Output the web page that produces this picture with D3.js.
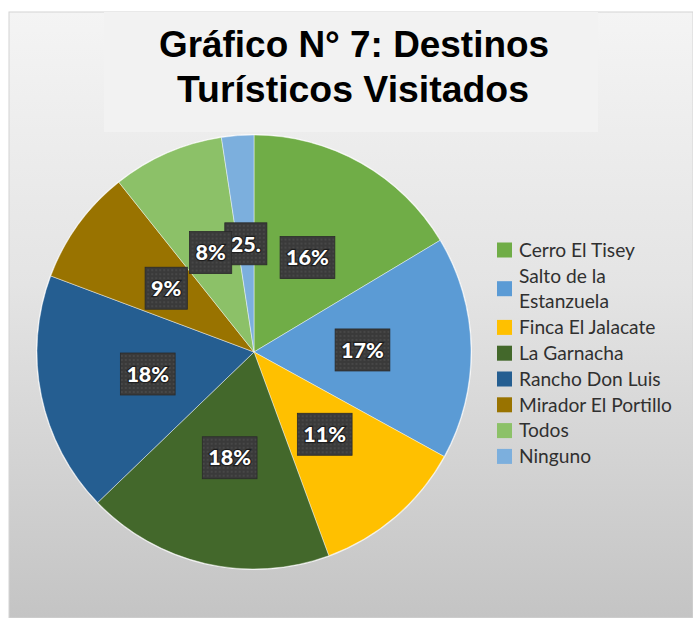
<!DOCTYPE html>
<html><head><meta charset="utf-8">
<script src="https://cdn.jsdelivr.net/npm/d3@7"></script>
<style>html,body{margin:0;padding:0;background:#fff;}svg{display:block;}</style>
</head><body>
<script>
const categories = ["Cerro El Tisey","Salto de la Estanzuela","Finca El Jalacate","La Garnacha","Rancho Don Luis","Mirador El Portillo","Todos","Ninguno"];
const legendLines = [["Cerro El Tisey"],["Salto de la","Estanzuela"],["Finca El Jalacate"],["La Garnacha"],["Rancho Don Luis"],["Mirador El Portillo"],["Todos"],["Ninguno"]];
const values = [16.4, 16.6, 11.4, 18.4, 17.9, 8.6, 8.3, 2.4];
const labels = ["16%","17%","11%","18%","18%","9%","8%","25."];
const colors = ["#70ad47","#5b9bd5","#ffc000","#43682b","#255e91","#997300","#8cc168","#7cafdd"];
const titleLines = ["Gráfico N° 7: Destinos","Turísticos Visitados"];

const W = 693, H = 618;
const svg = d3.select("body").append("svg").attr("width", W).attr("height", H);
const defs = svg.append("defs");
const grad = defs.append("linearGradient").attr("id","bg").attr("x1",0).attr("y1",0).attr("x2",0).attr("y2",1);
grad.append("stop").attr("offset","0%").attr("stop-color","#f4f4f4");
grad.append("stop").attr("offset","45%").attr("stop-color","#e4e4e4");
grad.append("stop").attr("offset","100%").attr("stop-color","#c4c4c4");
const pat = defs.append("pattern").attr("id","dots").attr("width",4).attr("height",4).attr("patternUnits","userSpaceOnUse");
pat.append("rect").attr("width",4).attr("height",4).attr("fill","#3a3a3a");
pat.append("circle").attr("cx",2).attr("cy",2).attr("r",0.7).attr("fill","#5e5e5e");

svg.append("rect").attr("width",W).attr("height",H).attr("fill","#fff");
svg.append("rect").attr("x",9).attr("y",12).attr("width",W-9).attr("height",H-12)
  .attr("fill","url(#bg)").attr("stroke","#d4d4d4").attr("stroke-width",1);

// title box
svg.append("rect").attr("x",104).attr("y",12).attr("width",494).attr("height",120).attr("fill","#f2f2f2");
const tl = svg.append("g").attr("font-family","'Liberation Sans', Arial, sans-serif").attr("font-weight","bold")
  .attr("font-size",36).attr("fill","#000").attr("text-anchor","middle");
tl.append("text").attr("x",354).attr("y",57).attr("textLength",390).attr("lengthAdjust","spacingAndGlyphs").text(titleLines[0]);
tl.append("text").attr("x",353).attr("y",102).attr("textLength",352).attr("lengthAdjust","spacingAndGlyphs").text(titleLines[1]);

// pie
const cx = 254, cy = 352, R = 217;
const pie = d3.pie().sort(null).value(d => d);
const arcs = pie(values);
const arc = d3.arc().innerRadius(0).outerRadius(R);
const g = svg.append("g").attr("transform",`translate(${cx},${cy})`);
g.append("circle").attr("r",R+1).attr("fill","#ffffff").attr("opacity",0.7);
g.selectAll("path.slice").data(arcs).enter().append("path").attr("class","slice")
  .attr("d",arc).attr("fill",(d,i)=>colors[i])
  .attr("stroke","#ffffff").attr("stroke-opacity",0.55).attr("stroke-width",0.8);

// labels (drawn last-to-first so earlier ones sit on top)
arcs.map((d,i)=>[d,i]).reverse().forEach(([d,i]) => {
  const [x,y] = arc.centroid(d);
  const lg = g.append("g").attr("transform",`translate(${x},${y})`);
  const rect = lg.append("rect");
  const t = lg.append("text").attr("text-anchor","middle").attr("dy","0.36em")
    .attr("font-family","Lato, 'Open Sans', sans-serif").attr("font-weight","900").attr("font-size",21.5)
    .attr("fill","#fff").attr("stroke","#1e1e1e").attr("stroke-width",2.4).attr("paint-order","stroke")
    .text(labels[i]);
  const bw = t.node().getComputedTextLength() + 12;
  rect.attr("x",-bw/2).attr("y",-21).attr("width",bw).attr("height",42)
    .attr("fill","url(#dots)").attr("stroke","#2a2a2a").attr("stroke-width",0.8);
});

// legend
const lx = 497, ly0 = 250, lstep = 25.8;
const leg = svg.append("g").attr("font-family","Lato, sans-serif").attr("font-size",19.2).attr("fill","#303030");
let line = 0;
legendLines.forEach((lines,i) => {
  const ys = lines.map((_,k) => ly0 + (line + k) * lstep);
  const ym = d3.mean(ys);
  leg.append("rect").attr("x",lx).attr("y",ym-7.5).attr("width",15).attr("height",15).attr("fill",colors[i]);
  lines.forEach((s,k) => {
    leg.append("text").attr("x",lx+22).attr("y",ys[k]).attr("dy","0.35em").text(s);
  });
  line += lines.length;
});
</script>
</body></html>
